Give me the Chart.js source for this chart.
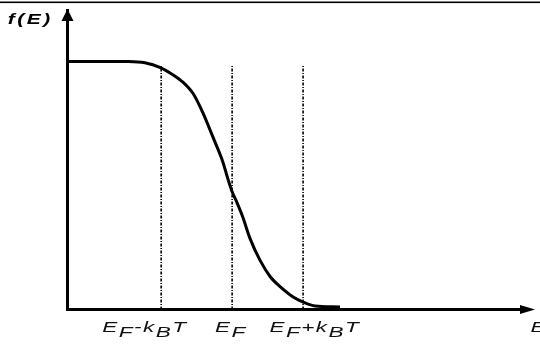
<!DOCTYPE html>
<html><head><meta charset="utf-8">
<script src="https://cdn.jsdelivr.net/npm/chart.js@4"></script>
<style>html,body{margin:0;padding:0;background:#fff;}canvas{display:block;}</style>
</head><body>
<canvas id="c" width="540" height="345"></canvas>
<script>
// ---- data (energy in units of k_B T relative to E_F) ----
const energy = [-2.32, -1.46, -1.23, -1.01, -0.83, -0.69, -0.55, -0.41, -0.27, -0.14, -0.06, 0.0, 0.07, 0.15, 0.25, 0.39, 0.54, 0.68, 0.86, 1.0, 1.17, 1.52];
const occupancy = [1.0, 1.0, 0.995, 0.976, 0.946, 0.916, 0.871, 0.792, 0.695, 0.603, 0.527, 0.475, 0.430, 0.373, 0.288, 0.200, 0.131, 0.091, 0.050, 0.030, 0.014, 0.010];
const markerEnergies = [-1, 0, 1];
const markerTop = 0.985;
const tickLabels = ["E_F-k_BT", "E_F", "E_F+k_BT"];
const yAxisLabel = "f(E)";
const xAxisLabel = "E";

// ---- drawing helpers ----
function parseRich(str){
  const parts=[];
  for(let i=0;i<str.length;i++){
    if(str[i]==='_' && i+1<str.length){parts.push({ch:str[i+1],sub:true});i++;}
    else parts.push({ch:str[i],sub:false});
  }
  return parts;
}
function drawRich(ctx,str,cx,baseline,o){
  const parts=parseRich(str);
  ctx.font=o.font;
  const widths=parts.map(p=>ctx.measureText(p.ch).width*o.sx);
  const total=widths.reduce((a,b)=>a+b,0)+o.gap*(parts.length-1);
  let x=cx-total/2;
  ctx.fillStyle=o.color;ctx.textBaseline='alphabetic';ctx.textAlign='left';
  parts.forEach((p,i)=>{
    ctx.save();
    ctx.translate(x,baseline+(p.sub?o.subDrop:0));
    ctx.scale(o.sx,1);
    ctx.fillText(p.ch,0,0);
    ctx.restore();
    x+=widths[i]+o.gap;
  });
}
const tickStyle={font:'italic 15px "Liberation Sans", Arial, sans-serif',color:'#111',sx:1.5,gap:1.5,subDrop:5};
const titleStyle={font:'bold italic 14px "Liberation Sans", Arial, sans-serif',color:'#000',sx:1.5,gap:2.5,subDrop:0};
const labelShift=[-17,-2,11];

const decor={
  id:'decor',
  afterDraw(chart){
    const {ctx,chartArea:a,scales:{x}}=chart;
    ctx.save();
    ctx.fillStyle='#000';
    ctx.fillRect(0,1.5,540,1.6);
    // y-axis arrow head
    ctx.beginPath();
    ctx.moveTo(a.left,a.top-1);
    ctx.lineTo(a.left-6,a.top+11);
    ctx.lineTo(a.left+6,a.top+11);
    ctx.closePath();ctx.fill();
    // x-axis arrow head
    ctx.beginPath();
    ctx.moveTo(a.right+13,a.bottom);
    ctx.lineTo(a.right-2,a.bottom-4.5);
    ctx.lineTo(a.right-2,a.bottom+4.5);
    ctx.closePath();ctx.fill();
    // tick labels at the scale's tick positions
    x.ticks.forEach((t,i)=>{
      drawRich(ctx,tickLabels[i],x.getPixelForValue(t.value)+labelShift[i],332,tickStyle);
    });
    drawRich(ctx,yAxisLabel,29,24,titleStyle);
    drawRich(ctx,xAxisLabel,538,332,tickStyle);
    ctx.restore();
  }
};

const datasets=[{
  data:energy.map((e,i)=>({x:e,y:occupancy[i]})),
  borderColor:'#000',borderWidth:3,pointRadius:0,
  tension:0.3,order:0,fill:false
}];
markerEnergies.forEach(m=>{
  datasets.push({
    data:[{x:m,y:0},{x:m,y:markerTop}],
    borderColor:'#000',borderWidth:1.6,borderDash:[3,1.5,1,1.5],
    pointRadius:0,order:1,fill:false
  });
});

new Chart(document.getElementById('c'),{
  type:'line',
  data:{datasets},
  options:{
    responsive:false,animation:false,devicePixelRatio:1,
    layout:{padding:{top:10,right:18,left:0,bottom:0}},
    plugins:{legend:{display:false},tooltip:{enabled:false}},
    scales:{
      x:{type:'linear',min:-2.32,max:4.085,
        afterBuildTicks(s){s.ticks=markerEnergies.map(v=>({value:v}));},
        afterFit(s){s.height=35.5;},
        ticks:{display:false},
        grid:{color:'rgba(0,0,0,0)',drawTicks:false},
        border:{display:true,color:'#000',width:3}
      },
      y:{type:'linear',min:0,max:1.208,
        afterBuildTicks(s){s.ticks=[];},
        afterFit(s){s.width=67.5;},
        ticks:{display:false},
        grid:{color:'rgba(0,0,0,0)',drawTicks:false},
        border:{display:true,color:'#000',width:3}
      }
    }
  },
  plugins:[decor]
});
</script>
</body></html>
